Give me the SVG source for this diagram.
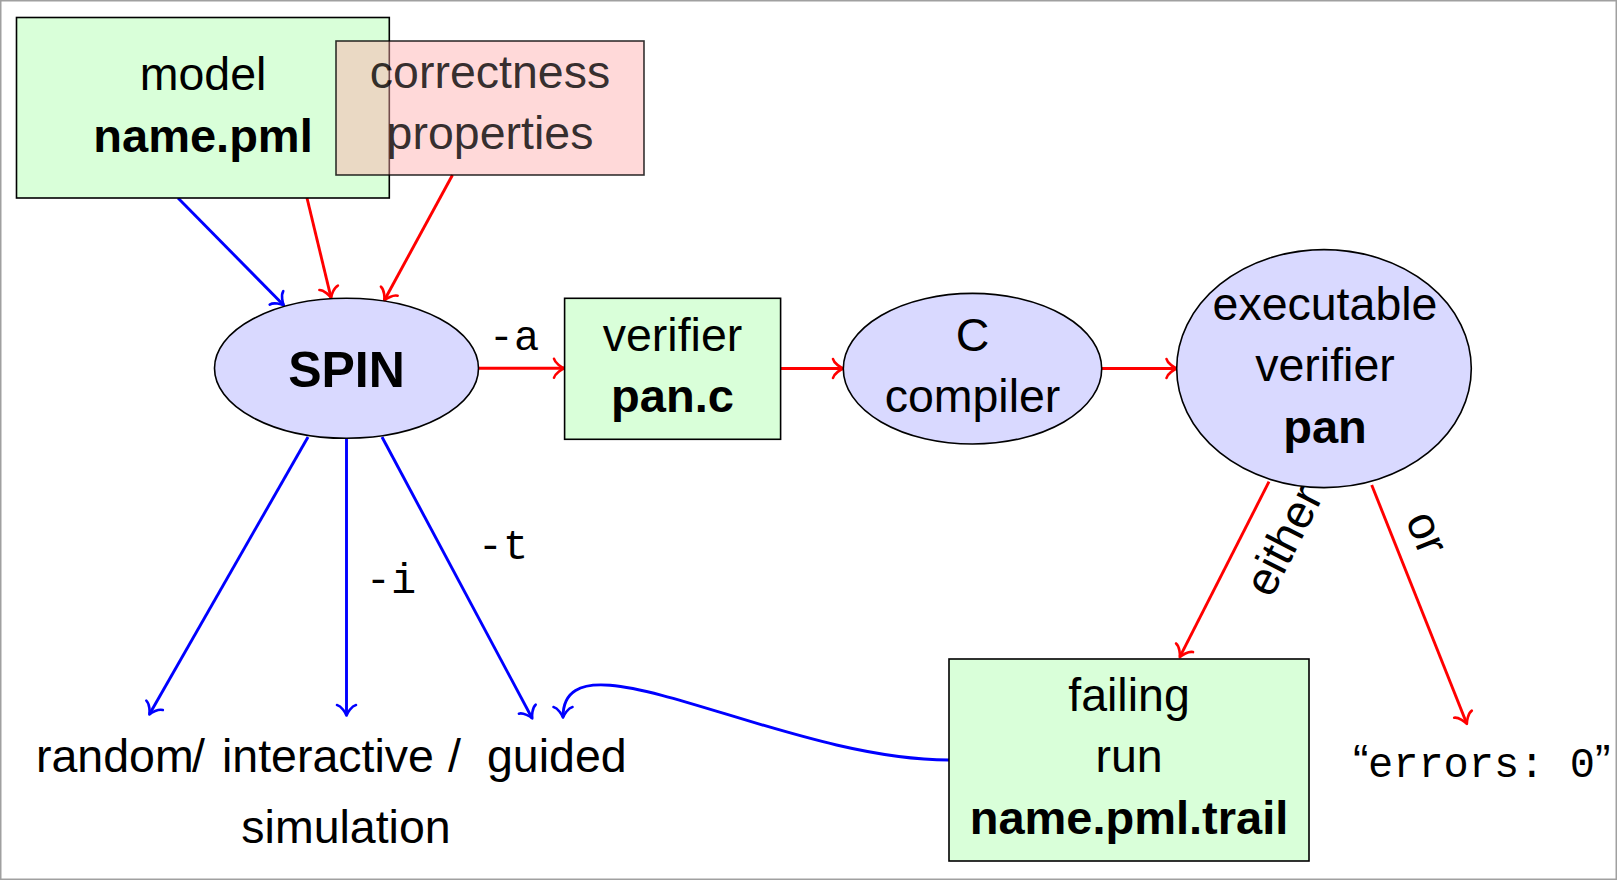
<svg xmlns="http://www.w3.org/2000/svg" width="1617" height="880" viewBox="0 0 1617 880">
<defs>
<style>
.t{font-family:"Liberation Sans",Arial,sans-serif;font-size:46.5px;text-anchor:middle;fill:#000}
.b{font-family:"Liberation Sans",Arial,sans-serif;font-size:47px;font-weight:bold;text-anchor:middle;fill:#000}
.m{font-family:"Liberation Mono","Courier New",monospace;font-size:42px;fill:#000}
.box{fill:#d9ffd9;stroke:#000;stroke-width:1.6}
.ell{fill:#d9d9ff;stroke:#000;stroke-width:1.6}
.r{fill:none;stroke:#ff0000;stroke-width:2.9;marker-end:url(#ar)}
.bl{fill:none;stroke:#0000ff;stroke-width:2.9;marker-end:url(#ab)}
</style>
<marker id="ar" viewBox="-12 -12 14 24" refX="0" refY="0" markerWidth="14" markerHeight="24" markerUnits="userSpaceOnUse" orient="auto" overflow="visible">
<path d="M -10,-9.5 C -9,-5 -2,-0.8 0.5,0 C -2,0.8 -9,5 -10,9.5" fill="none" stroke="#ff0000" stroke-width="2.6" stroke-linecap="round" stroke-linejoin="round"/>
</marker>
<marker id="ab" viewBox="-12 -12 14 24" refX="0" refY="0" markerWidth="14" markerHeight="24" markerUnits="userSpaceOnUse" orient="auto" overflow="visible">
<path d="M -10,-9.5 C -9,-5 -2,-0.8 0.5,0 C -2,0.8 -9,5 -10,9.5" fill="none" stroke="#0000ff" stroke-width="2.6" stroke-linecap="round" stroke-linejoin="round"/>
</marker>
</defs>
<rect x="0" y="0" width="1617" height="880" fill="#fff"/>
<rect x="0.75" y="0.75" width="1615.5" height="878.5" fill="none" stroke="#a0a0a0" stroke-width="1.5"/>

<g id="connectors">
<path class="bl" d="M 178,198 L 283.5,305"/>
<path class="r" d="M 307,198 L 331,297.5"/>
<path class="r" d="M 452.5,175 L 384.5,300"/>
<path class="r" d="M 478.5,368.3 L 564,368.3"/>
<path class="r" d="M 780.5,368.5 L 843,368.5"/>
<path class="r" d="M 1101.7,368.5 L 1176.5,368.5"/>
<path class="r" d="M 1269,481.7 L 1180,656.7"/>
<path class="r" d="M 1371.7,485 L 1466.7,723.5"/>
<path class="bl" d="M 308,437 L 149.6,714"/>
<path class="bl" d="M 346.5,438.3 L 346.5,715"/>
<path class="bl" d="M 382,437 L 532,718"/>
<path class="bl" d="M 949,760 C 780,760 563,625 563,717"/>
<text class="m" x="514" y="350" text-anchor="middle">-a</text>
<text class="m" x="391" y="592.7" text-anchor="middle">-i</text>
<text class="m" x="503" y="559.3" text-anchor="middle">-t</text>
<text class="t" transform="translate(1283,540) rotate(-63)" x="0" y="16.5">either</text>
<text class="t" transform="translate(1424,534) rotate(68.2)" x="0" y="12">or</text>
</g>

<g id="model">
<rect class="box" x="16.5" y="17.5" width="372.8" height="180.5"/>
<text class="t" x="203" y="90">model</text>
<text class="b" x="203" y="151.7">name.pml</text>
</g>

<g id="correctness">
<rect x="336" y="41" width="308" height="134" fill="#ffaaaa" fill-opacity="0.45" stroke="#000" stroke-opacity="0.8" stroke-width="1.6"/>
<text class="t" x="490" y="87.5" style="fill-opacity:0.8">correctness</text>
<text class="t" x="490" y="148.5" style="fill-opacity:0.8">properties</text>
</g>

<g id="spin">
<ellipse class="ell" cx="346.5" cy="368.3" rx="132" ry="70"/>
<text class="b" x="346.5" y="386.7" style="font-size:50px">SPIN</text>
</g>

<g id="verifier">
<rect class="box" x="564.6" y="298.3" width="216" height="141"/>
<text class="t" x="672.5" y="350.7">verifier</text>
<text class="b" x="672.5" y="411.7">pan.c</text>
</g>

<g id="compiler">
<ellipse class="ell" cx="972.5" cy="368.7" rx="129.2" ry="75.3"/>
<text class="t" x="972.5" y="351">C</text>
<text class="t" x="972.5" y="411.7">compiler</text>
</g>

<g id="executable">
<ellipse class="ell" cx="1324" cy="368.6" rx="147.3" ry="119"/>
<text class="t" x="1325" y="319.5">executable</text>
<text class="t" x="1325" y="381">verifier</text>
<text class="b" x="1325" y="443">pan</text>
</g>

<g id="failing">
<rect class="box" x="949" y="659" width="360" height="202"/>
<text class="t" x="1129" y="710.7">failing</text>
<text class="t" x="1129" y="771.7">run</text>
<text class="b" x="1129" y="834.3">name.pml.trail</text>
</g>

<g id="simulation">
<text class="t" style="text-anchor:start" y="771.7"><tspan x="36">random</tspan> <tspan x="192">/</tspan> <tspan x="222">interactive</tspan> <tspan x="448">/</tspan> <tspan x="487">guided</tspan></text>
<text class="t" x="346" y="842.7">simulation</text>
</g>

<g id="errors">
<text y="777"><tspan class="t" x="1353" style="text-anchor:start">“</tspan><tspan class="m" x="1368">errors: 0</tspan><tspan class="t" x="1595" style="text-anchor:start">”</tspan></text>
</g>
</svg>
